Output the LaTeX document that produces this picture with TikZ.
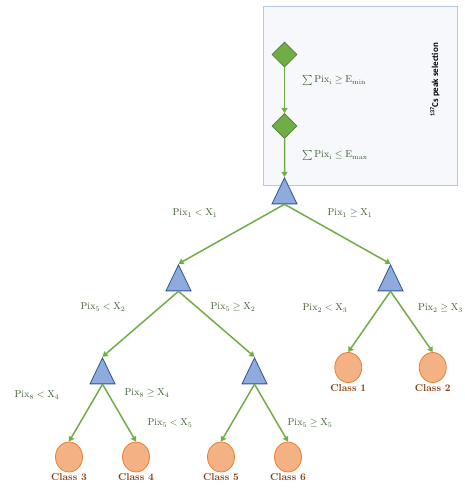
\documentclass[tikz,border=0pt]{standalone}
\usepackage{fontspec}
\newfontfamily\capfont{Carlito}
\usetikzlibrary{shapes.geometric,arrows.meta}
\definecolor{boxfill}{HTML}{F6F8FC}
\definecolor{boxline}{HTML}{B4C7E7}
\definecolor{leafgreen}{HTML}{70AD47}
\definecolor{darkgreen}{HTML}{507E32}
\definecolor{lblgreen}{HTML}{3B5A2C}
\definecolor{trifill}{HTML}{8FAADC}
\definecolor{triline}{HTML}{2F5597}
\definecolor{leaffill}{HTML}{F4B183}
\definecolor{leafline}{HTML}{ED7D31}
\definecolor{classbrown}{HTML}{843C0C}
\begin{document}
\begin{tikzpicture}
[x=1pt, y=-1pt,
 dia/.style = {shape=diamond, draw=darkgreen, fill=leafgreen, line width=0.8pt,
	inner sep=0pt, minimum size=25pt},
 tri/.style = {shape=isosceles triangle, isosceles triangle stretches,
	shape border rotate=90, draw=triline, fill=trifill, line width=0.8pt,
	inner sep=0pt, minimum width=25pt, minimum height=26pt},
 leaf/.style = {shape=ellipse, draw=leafline, fill=leaffill, line width=0.8pt,
	inner sep=0pt, minimum width=27pt, minimum height=30pt},
 classlbl/.style = {label={[text=classbrown, font=\normalsize\bfseries, inner sep=1pt]below:#1}},
 cond/.style = {text=lblgreen, font=\normalsize, inner sep=0pt},
 edge from parent/.style = {draw=leafgreen, line width=1.5pt,
	-{Triangle[width=6pt,length=5pt]}},
 parent anchor=south, child anchor=north]
 \tikzstyle{level 1}=[level distance=71.5pt]
 \tikzstyle{level 2}=[level distance=70pt]
 \tikzstyle{level 3}=[level distance=87pt, sibling distance=212pt]
 \tikzstyle{level 4}=[level distance=93pt, sibling distance=152pt]
 \tikzstyle{level 5}=[level distance=81pt, sibling distance=67pt]

 \useasboundingbox (0,0) rectangle (464,488);
 % selection box
 \draw[draw=boxline, fill=boxfill, line width=0.8pt] (263,6) rectangle (457,185);
 \node[rotate=90, font=\capfont\bfseries\small] (sel) at (435,80)
 	{\textsuperscript{137}Cs peak selection};

 \node[dia] (d1) at (284.5,54.5) {}
 	child { node[dia] (d2) {}
 		child { node[tri] (t0) {}
 			child { node[tri] (t1) {}
 				child { node[tri] (t3) {}
 					child { node[leaf, classlbl=Class 3] (c3) {}}
 					child { node[leaf, classlbl=Class 4] (c4) {}}}
 				child { node[tri] (t4) {}
 					child { node[leaf, classlbl=Class 5] (c5) {}}
 					child { node[leaf, classlbl=Class 6] (c6) {}}}}
 			child { node[tri] (t2) {}
 				child[level distance=84.5pt, sibling distance=84.5pt] { node[leaf, classlbl=Class 1] (c1) {}}
 				child[level distance=84.5pt, sibling distance=84.5pt] { node[leaf, classlbl=Class 2] (c2) {}}}}};

 % split conditions
 \node[cond, anchor=west] (e1) at (302,80) {$\sum \mathrm{Pix_i} \geq \mathrm{E_{min}}$};
 \node[cond, anchor=west] (e2) at (302,155) {$\sum \mathrm{Pix_i} \leq \mathrm{E_{max}}$};
 \node[cond] (s1l) at (195,213) {$\mathrm{Pix}_1 < \mathrm{X}_1$};
 \node[cond] (s1r) at (350,213) {$\mathrm{Pix}_1 \geq \mathrm{X}_1$};
 \node[cond] (s5l) at (103,307) {$\mathrm{Pix}_5 < \mathrm{X}_2$};
 \node[cond] (s5r) at (233,307) {$\mathrm{Pix}_5 \geq \mathrm{X}_2$};
 \node[cond] (s2l) at (325,308) {$\mathrm{Pix}_2 < \mathrm{X}_3$};
 \node[cond, anchor=west] (s2r) at (418,308) {$\mathrm{Pix}_2 \geq \mathrm{X}_3$};
 \node[cond] (s8l) at (37,395) {$\mathrm{Pix}_8 < \mathrm{X}_4$};
 \node[cond] (s8r) at (147,393) {$\mathrm{Pix}_8 \geq \mathrm{X}_4$};
 \node[cond] (s6l) at (170,423) {$\mathrm{Pix}_5 < \mathrm{X}_5$};
 \node[cond] (s6r) at (310,423) {$\mathrm{Pix}_5 \geq \mathrm{X}_5$};
\end{tikzpicture}
\end{document}
